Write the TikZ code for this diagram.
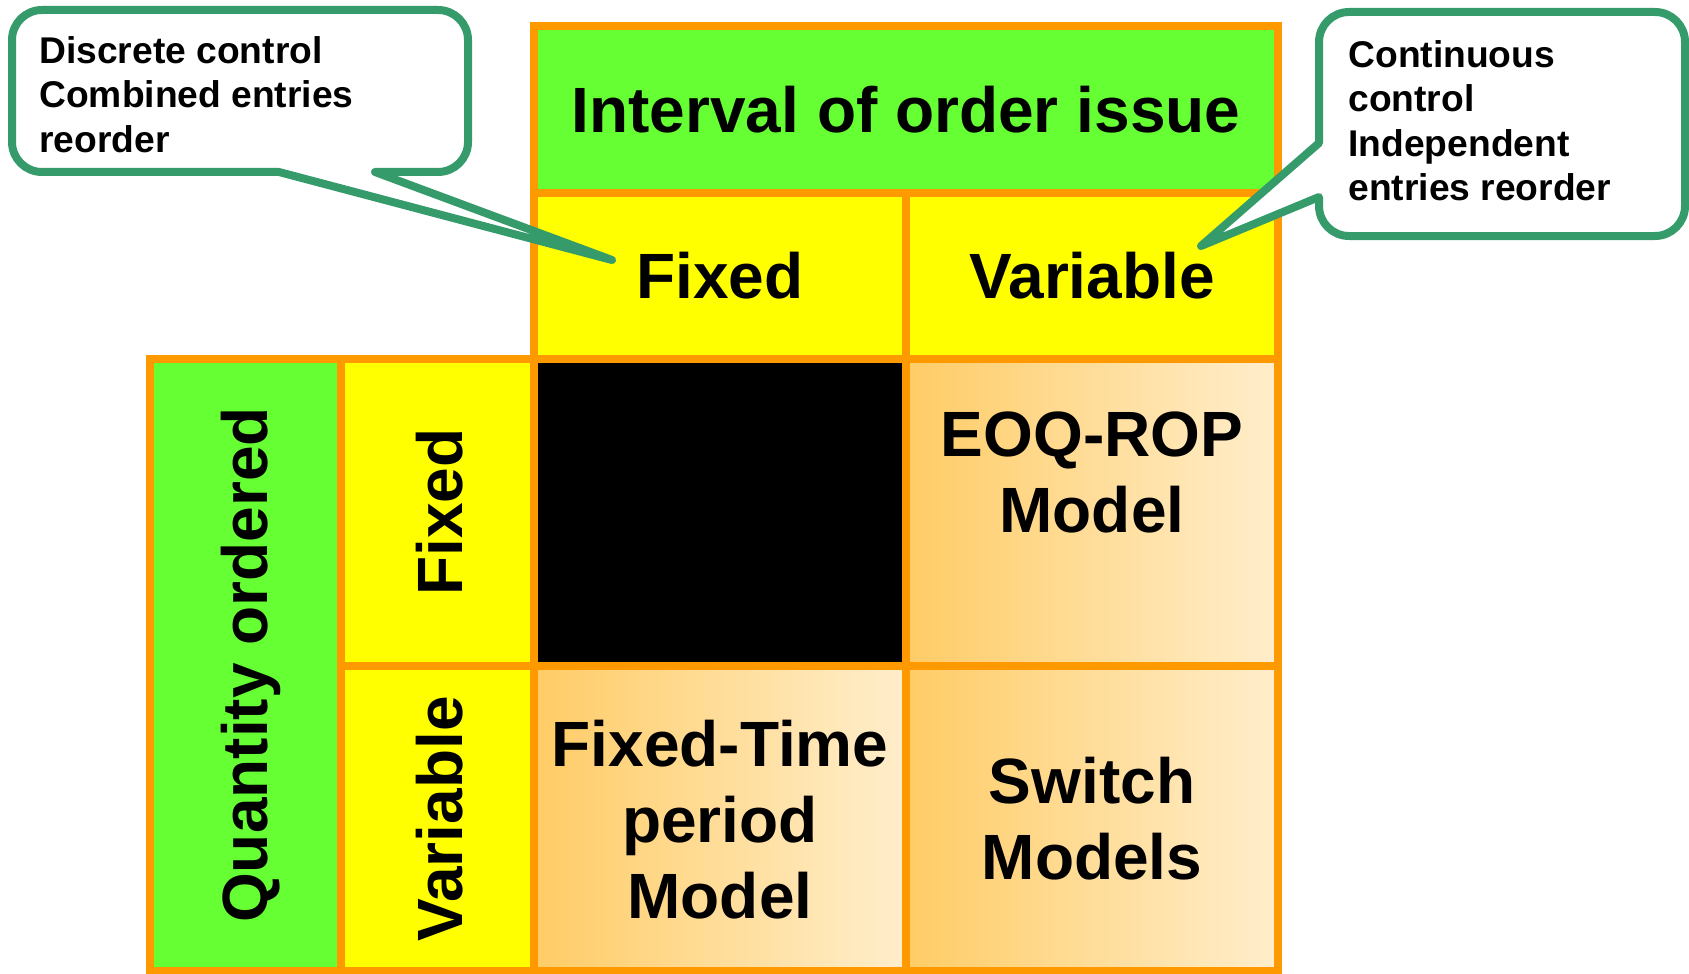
\documentclass[tikz,border=0pt]{standalone}
\usepackage{fontspec}
\setmainfont{Liberation Sans}
\definecolor{greenH}{RGB}{102,255,51}
\definecolor{yellowC}{RGB}{255,255,0}
\definecolor{orangeB}{RGB}{255,153,0}
\definecolor{calloutG}{RGB}{54,155,107}
\definecolor{warmL}{RGB}{255,204,102}
\definecolor{warmR}{RGB}{255,238,204}
\begin{document}
\begin{tikzpicture}[x=0.5pt,y=-0.5pt,
  cellborder/.style={draw=orangeB, line width=4pt},
  big/.style={font=\fontsize{32}{38}\selectfont\bfseries, align=center, inner sep=0pt},
  small/.style={font=\fontsize{18.6}{22.2}\selectfont\bfseries, align=left, inner sep=0pt},
  callout/.style={draw=calloutG, line width=4pt, fill=white, line join=round},
  warm/.style={left color=warmL, right color=warmR}]
\useasboundingbox (0,0) rectangle (1689,973);

% fills
\fill[greenH] (534,26) rectangle (1278,193);
\fill[yellowC] (534,193) rectangle (906,359);
\fill[yellowC] (906,193) rectangle (1278,359);
\fill[greenH] (150,359) rectangle (341,971);
\fill[yellowC] (341,359) rectangle (534,666);
\fill[yellowC] (341,666) rectangle (534,971);
\fill[black] (534,359) rectangle (906,666);
\shade[warm] (906,359) rectangle (1278,666);
\shade[warm] (534,666) rectangle (906,971);
\shade[warm] (906,666) rectangle (1278,971);

% borders
\draw[cellborder] (534,26) rectangle (1278,193);
\draw[cellborder] (534,193) rectangle (906,359);
\draw[cellborder] (906,193) rectangle (1278,359);
\draw[cellborder] (150,359) rectangle (341,971);
\draw[cellborder] (341,359) rectangle (534,666);
\draw[cellborder] (341,666) rectangle (534,971);
\draw[cellborder] (534,359) rectangle (906,666);
\draw[cellborder] (906,359) rectangle (1278,666);
\draw[cellborder] (534,666) rectangle (906,971);
\draw[cellborder] (906,666) rectangle (1278,971);

% texts
\node[big] (hdr) at (906,110) {Interval of order issue};
\node[big] (colfix) at (720,276) {Fixed};
\node[big] (colvar) at (1092,276) {Variable};
\node[big, rotate=90] (qty) at (251,665) {Quantity ordered};
\node[big, rotate=90] (rowfix) at (440,512) {Fixed};
\node[big, rotate=90] (rowvar) at (440,819) {Variable};
\node[big, anchor=north] (eoq) at (1092,411) {EOQ-ROP\\Model};
\node[big] (ftp) at (720,820) {Fixed-Time\\period\\Model};
\node[big] (sw) at (1092,819) {Switch\\Models};

% callouts
\draw[callout] (240,10) [rounded corners=15pt] -- (468,10) -- (468,172) [sharp corners] -- (375,172) -- (612,260) -- (279,172) [rounded corners=15pt] -- (12,172) -- (12,10) -- cycle;
\draw[callout] (1500,12) [rounded corners=15pt] -- (1685,12) -- (1685,236) -- (1319,236) [sharp corners] -- (1319,197) -- (1201,246) -- (1319,143) [rounded corners=15pt] -- (1319,12) -- cycle;

\node[small, anchor=north west] (lnote) at (39,36) {Discrete control\\Combined entries\\reorder};
\node[small, anchor=north west] (rnote) at (1348,40) {Continuous\\control\\Independent\\entries reorder};
\end{tikzpicture}
\end{document}
